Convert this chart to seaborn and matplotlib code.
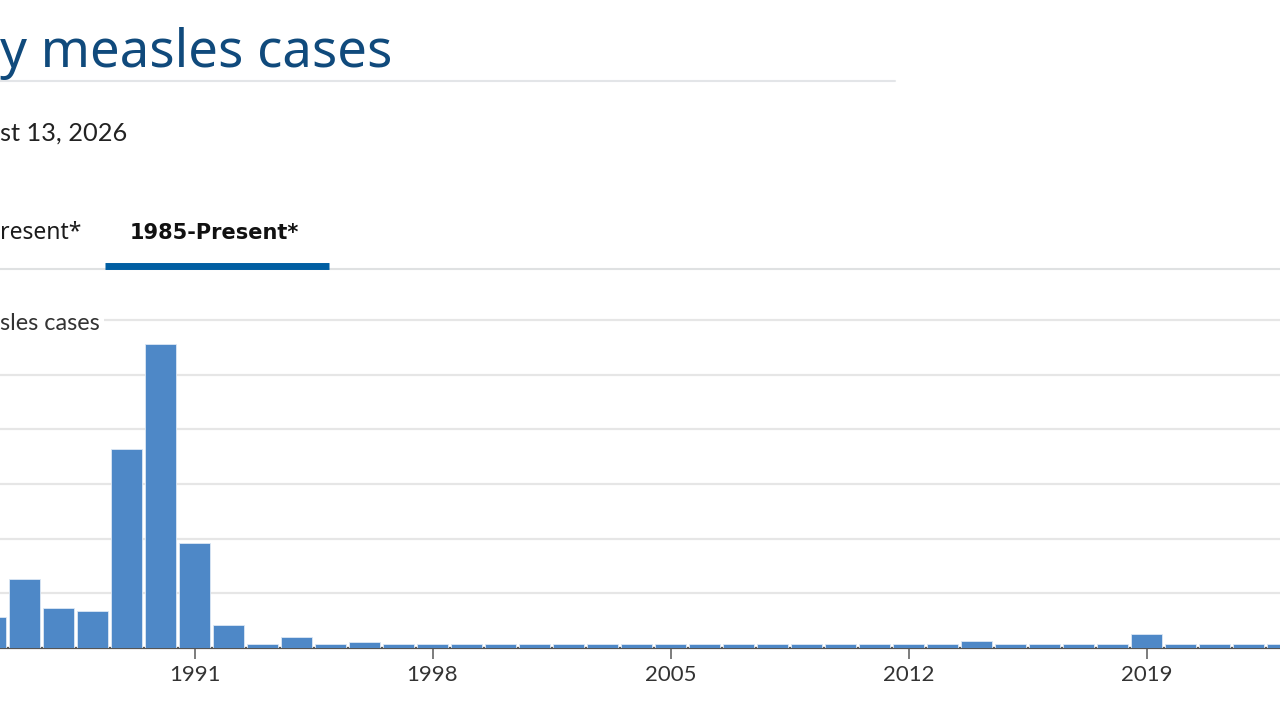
import numpy as np
import pandas as pd
import matplotlib
matplotlib.use("Agg")
import matplotlib.pyplot as plt
import seaborn as sns

# ---- data ----
years = list(range(1985, 2024))
cases = [2822, 6282, 3655, 3396, 18193, 27786, 9643, 2126, 312, 963,
         309, 508, 138, 100, 100, 86, 116, 44, 56, 37,
         66, 55, 43, 140, 71, 63, 220, 55, 187, 667,
         188, 86, 120, 375, 1274, 13, 49, 121, 59]
xtick_years = [1991, 1998, 2005, 2012, 2019]
ytick_vals = [0, 5000, 10000, 15000, 20000, 25000, 30000]

title_text = "y measles cases"
subtitle_text = "st 13, 2026"
tab_left = "resent*"
tab_active = "1985-Present*"
axis_title = "sles cases"

MIN_VISIBLE = 360  # bars render with a minimum visible height
df = pd.DataFrame({"year": years, "cases": cases})
df["shown"] = np.maximum(df["cases"], MIN_VISIBLE)

sns.set_theme(style="white")
plt.rcParams["font.family"] = ["Lato", "DejaVu Sans"]

W, H = 1280, 720
fig = plt.figure(figsize=(12.8, 7.2), dpi=100)

def fx(px):
    return px / W

def fy(py):
    return 1 - py / H

# ---- header ----
fig.text(fx(0), fy(54), title_text, fontsize=38, color="#104a7c",
         family=["Noto Sans", "DejaVu Sans"], va="center", ha="left")
fig.add_artist(plt.Line2D([0, fx(895)], [fy(81), fy(81)], color="#e3e5e8", lw=1.5))
fig.text(fx(0), fy(133), subtitle_text, fontsize=18.3, color="#222222",
         family=["Lato", "DejaVu Sans"], va="center", ha="left")
fig.text(fx(0), fy(233), tab_left, fontsize=16.5, color="#1b1b1b",
         family=["Noto Sans", "DejaVu Sans"], va="center", ha="left")
fig.text(fx(130), fy(233), tab_active, fontsize=15, color="#111111", fontweight="bold",
         family=["DejaVu Sans"], va="center", ha="left")
fig.add_artist(plt.Line2D([0, 1], [fy(269), fy(269)], color="#dfe1e2", lw=1.5))
fig.add_artist(plt.Line2D([fx(105), fx(329)], [fy(265.5), fy(265.5)], color="#005ea2",
                          lw=5, solid_capstyle="butt"))

# ---- chart ----
px_per_year = 34.0
anchor_px = 194.5
x_left = 1991 - anchor_px / px_per_year
x_right = 1991 + (W - anchor_px) / px_per_year
ax_top_px, base_px = 300, 648
ax = fig.add_axes([0, fy(base_px), 1, (base_px - ax_top_px) / H])
ymax = 30000 * (base_px - ax_top_px) / (base_px - 320)

sns.barplot(data=df, x="year", y="shown", native_scale=True, color="#4e88c7",
            saturation=1, width=0.91, edgecolor="#dce8f5", linewidth=0.6, ax=ax, zorder=3)
ax.set_xlim(x_left, x_right)
ax.set_ylim(0, ymax)
ax.set_yticks(ytick_vals)
ax.set_yticklabels([])
ax.tick_params(axis="y", length=0)
ax.yaxis.grid(True, color="#e6e6e6", lw=1.6, zorder=0)
ax.set_axisbelow(True)
ax.set_xticks(xtick_years)
ax.set_xticklabels([str(y) for y in xtick_years], fontsize=16, color="#333333")
ax.tick_params(axis="x", length=8, width=1.2, color="#666666", pad=4, bottom=True)
for s in ["top", "right", "left"]:
    ax.spines[s].set_visible(False)
ax.spines["bottom"].set_color("#555555")
ax.spines["bottom"].set_linewidth(1.6)
ax.set_xlabel("")
ax.set_ylabel("")
ax.patch.set_alpha(0)

fig.text(fx(0), fy(323), axis_title, fontsize=16.8, color="#333333", va="center", ha="left",
         bbox=dict(facecolor="white", edgecolor="none", pad=3), zorder=5)

fig.savefig("out.png", dpi=100)
